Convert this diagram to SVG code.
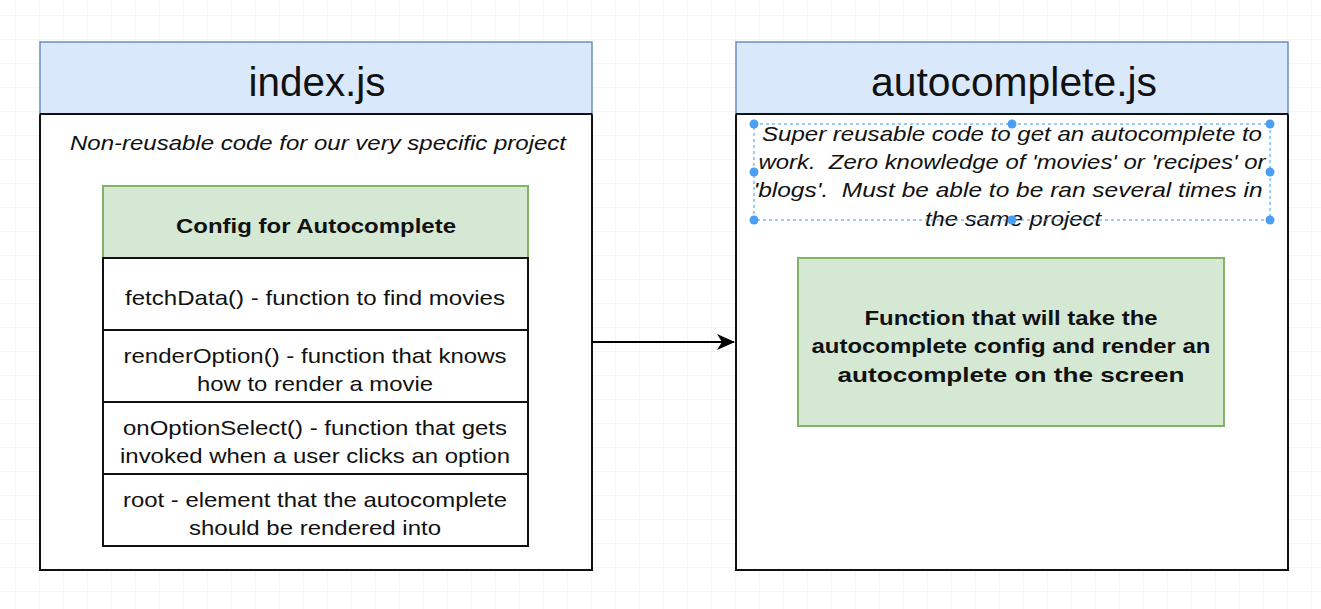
<svg xmlns="http://www.w3.org/2000/svg" width="1321" height="609" viewBox="0 0 1321 609">
<defs>
<pattern id="grid" width="24" height="24" patternUnits="userSpaceOnUse" x="16" y="16">
<path d="M24 0V24M0 24H24" fill="none" stroke="#ececec" stroke-width="1"/>
</pattern>
<marker id="arr" viewBox="0 0 18 16" refX="17" refY="8" markerWidth="18" markerHeight="16" markerUnits="userSpaceOnUse" orient="auto">
<path d="M0 0L18 8L0 16L5 8Z" fill="#000"/>
</marker>
</defs>
<style>
.hdr{fill:#dae8fc;stroke:#6c8ebf;stroke-width:1.5}
.body{fill:#fff;stroke:#111;stroke-width:2}
.grn{fill:#d5e8d4;stroke:#82b366;stroke-width:2}
.row{fill:#fff;stroke:#111;stroke-width:2}
text{font-family:'Liberation Sans',Arimo,Helvetica,Arial,sans-serif;fill:#111;text-anchor:middle}
.t1{font-size:40px}
.it{font-size:21px;font-style:italic}
.b{font-size:21px;font-weight:bold}
.r{font-size:21px}
.sel{fill:none;stroke:#3399ff;stroke-width:1;stroke-dasharray:3 3}
.h{fill:#4a9ff5}
</style>
<rect width="1321" height="609" fill="#fff"/>
<rect width="1321" height="609" fill="url(#grid)"/>

<g id="index">
<rect class="body" x="40" y="114" width="552" height="456"/>
<rect class="hdr" x="40" y="42" width="552" height="72"/>
<line x1="40" y1="114" x2="592" y2="114" stroke="#111" stroke-width="2"/>
<text class="t1" x="317" y="96" textLength="137" lengthAdjust="spacingAndGlyphs">index.js</text>
<text class="it" x="318" y="150" textLength="496" lengthAdjust="spacingAndGlyphs">Non-reusable code for our very specific project</text>
</g>

<g id="config">
<rect class="grn" x="103" y="186" width="425" height="72"/>
<text class="b" x="316" y="233" textLength="280" lengthAdjust="spacingAndGlyphs">Config for Autocomplete</text>
<rect class="row" x="103" y="258" width="425" height="72"/>
<text class="r" x="315" y="305" textLength="380" lengthAdjust="spacingAndGlyphs">fetchData() - function to find movies</text>
<rect class="row" x="103" y="330" width="425" height="72"/>
<text class="r" x="315" y="363" textLength="383" lengthAdjust="spacingAndGlyphs">renderOption() - function that knows</text>
<text class="r" x="315" y="391" textLength="236" lengthAdjust="spacingAndGlyphs">how to render a movie</text>
<rect class="row" x="103" y="402" width="425" height="72"/>
<text class="r" x="315" y="435" textLength="384" lengthAdjust="spacingAndGlyphs">onOptionSelect() - function that gets</text>
<text class="r" x="315" y="463" textLength="390" lengthAdjust="spacingAndGlyphs">invoked when a user clicks an option</text>
<rect class="row" x="103" y="474" width="425" height="72"/>
<text class="r" x="315" y="507" textLength="384" lengthAdjust="spacingAndGlyphs">root - element that the autocomplete</text>
<text class="r" x="315" y="535" textLength="252" lengthAdjust="spacingAndGlyphs">should be rendered into</text>
</g>

<g id="autocomplete">
<rect class="body" x="736" y="114" width="552" height="456"/>
<rect class="hdr" x="736" y="42" width="552" height="72"/>
<line x1="736" y1="114" x2="1288" y2="114" stroke="#111" stroke-width="2"/>
<text class="t1" x="1014" y="96" textLength="286" lengthAdjust="spacingAndGlyphs">autocomplete.js</text>
<text class="it" x="1012" y="141" textLength="500" lengthAdjust="spacingAndGlyphs">Super reusable code to get an autocomplete to</text>
<text class="it" x="1012" y="169" textLength="507" lengthAdjust="spacingAndGlyphs" xml:space="preserve">work.  Zero knowledge of 'movies' or 'recipes' or</text>
<text class="it" x="1008" y="197" textLength="509" lengthAdjust="spacingAndGlyphs" xml:space="preserve">'blogs'.  Must be able to be ran several times in</text>
<text class="it" x="1013" y="226" textLength="176" lengthAdjust="spacingAndGlyphs">the same project</text>
<rect class="sel" x="754" y="124" width="516" height="96"/>
<circle class="h" cx="754" cy="124" r="4.5"/>
<circle class="h" cx="1012" cy="124" r="4.5"/>
<circle class="h" cx="1270" cy="124" r="4.5"/>
<circle class="h" cx="754" cy="172" r="4.5"/>
<circle class="h" cx="1270" cy="172" r="4.5"/>
<circle class="h" cx="754" cy="220" r="4.5"/>
<circle class="h" cx="1012" cy="220" r="4.5"/>
<circle class="h" cx="1270" cy="220" r="4.5"/>
</g>

<g id="render">
<rect class="grn" x="798" y="258" width="426" height="168"/>
<text class="b" x="1011" y="325" textLength="293" lengthAdjust="spacingAndGlyphs">Function that will take the</text>
<text class="b" x="1011" y="353" textLength="399" lengthAdjust="spacingAndGlyphs">autocomplete config and render an</text>
<text class="b" x="1011" y="382" textLength="347" lengthAdjust="spacingAndGlyphs">autocomplete on the screen</text>
</g>

<g id="connectors">
<line x1="592" y1="342" x2="734" y2="342" stroke="#000" stroke-width="2" marker-end="url(#arr)"/>
</g>
</svg>
